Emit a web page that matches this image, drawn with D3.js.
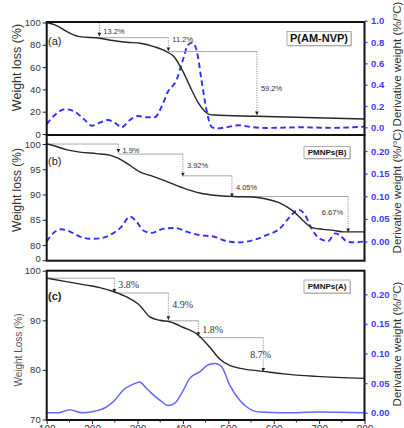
<!DOCTYPE html>
<html><head><meta charset="utf-8">
<script src="https://cdn.jsdelivr.net/npm/d3@7"></script>
<style>body{margin:0;background:#fff;} svg{display:block;}</style>
</head><body>
<script>
// ---------- data ----------
const xTicks = [100,200,300,400,500,600,700,800];

const tempA   = [100,118,151,173,217,246,276,306,336,364,380,400,419,434,448,459,469,562,800];
const weightA = [100,97.8,90.4,87.3,85.9,83.8,82.3,81.4,78.4,73.9,69.5,56.1,39.7,27.9,20.4,17.4,17.0,15.9,13.4];
const dTempA  = [100,118,140,162,184,199,217,235,250,265,283,301,320,338,353,367,386,400,411,421,430,441,452,463,474,496,522,555,584,658,730,800];
const derivA  = [0.03,0.115,0.17,0.146,0.068,0.015,0.043,0.068,0.043,0.0,0.068,0.106,0.094,0.094,0.193,0.334,0.444,0.631,0.772,0.794,0.725,0.444,0.162,0.006,-0.01,0.0,0.019,0.0,-0.006,0.0,-0.005,0.006];

const tempB   = [100,114,143,173,210,239,257,276,305,334,364,400,437,474,511,555,584,614,643,665,683,709,731,753,800];
const weightB = [100,99.7,98.9,98.4,98.1,97.8,97.2,96.2,94.5,93.6,92.6,91.3,90.3,89.8,89.6,89.5,89.1,88.3,86.7,84.8,83.5,83.1,82.9,82.6,82.6];
const dTempB  = [100,114,132,151,173,195,217,246,265,283,298,312,331,356,382,408,437,467,496,525,555,584,614,636,654,669,683,702,720,735,746,761,775,800];
const derivB  = [0.0,0.018,0.027,0.022,0.011,0.006,0.007,0.018,0.033,0.055,0.044,0.025,0.019,0.028,0.030,0.022,0.014,0.011,0.001,-0.002,0.003,0.014,0.029,0.055,0.070,0.059,0.029,0.006,0.001,0.018,0.014,0.0,-0.002,0.0];

const tempC   = [100,143,187,217,250,276,305,327,349,371,400,434,459,481,503,533,577,621,694,800];
const weightC = [98.5,97.8,97.1,96.6,95.7,94.7,93.0,90.7,90.0,89.7,88.6,87.0,84.6,82.2,80.9,80.2,79.7,79.2,78.7,78.3];
const dTempC  = [100,125,151,177,202,232,250,268,290,304,320,338,353,367,382,401,415,437,459,472,485,503,522,540,570,621,700,800];
const derivC  = [0.0,0.0,0.005,0.0,0.002,0.01,0.021,0.038,0.048,0.052,0.041,0.028,0.019,0.012,0.016,0.038,0.058,0.069,0.082,0.083,0.078,0.047,0.024,0.010,0.001,0.0,0.001,0.0];

// steps: [T start, T end, W top, W bottom, label, W of label, label anchor]
const stepsA = [[100,216,100,87.3,"13.2%",91.8,"start"],[216,368,86.4,73.9,"11.2%",85,"start"],[368,563,73.9,16.5,"59.2%",41.3,"start"]];
const stepsB = [[100,258,100,98.2,"1.9%",98.8,"start"],[258,400,98.0,93.5,"3.92%",95.7,"start"],[400,508,93.7,89.4,"4.05%",91.5,"start"],[508,764,89.6,82.5,"6.67%",86.4,"end"]];
const stepsC = [[100,249,98.5,95.5,"3.8%",97.3,"start"],[249,368,95.5,90.0,"4.9%",93.1,"start"],[368,434,89.9,86.8,"1.8%",88.1,"start"],[434,577,86.5,79.6,"8.7%",83.1,"mid"]];

const leftTicksA = [0,20,40,60,80,100];
const leftTicksB = [80,85,90,95,100];
const leftTicksC = [70,80,90,100];
const rightTicksA = [0,0.2,0.4,0.6,0.8,1.0];
const rightTicksB = [0,0.05,0.10,0.15,0.20];
const rightTicksC = [0,0.05,0.10,0.15,0.20];

// ---------- drawing ----------
const svg = d3.select("body").append("svg").attr("width",404).attr("height",428)
  .style("font-family","Arial, 'Liberation Sans', sans-serif");
const x = d3.scaleLinear().domain([100,800]).range([46.7,364.5]);
const X0 = 46.7, X1 = 364.5;
const BLUE = "#3c3cff";

const panels = [
  {top:22, bottom:135, yL:d3.scaleLinear().domain([0,100]).range([134,22.5]),
   yR:d3.scaleLinear().domain([0,1]).range([127.3,20.7]),
   temp:tempA, w:weightA, dT:dTempA, d:derivA, steps:stepsA, lt:leftTicksA, rt:rightTicksA,
   rfmt:d3.format(".1f"), dashed:true, tag:"(a)", tagY:44.5, box:["P(AM-NVP)",287,31.5,64,14,11],
   lTitle:"Weight loss (%)", lTitleY:67.5, lFont:12.5, rTitleY:64, serif:false},
  {top:135, bottom:260.7, yL:d3.scaleLinear().domain([80,100]).range([245,144]),
   yR:d3.scaleLinear().domain([0,0.2]).range([241.5,151]),
   temp:tempB, w:weightB, dT:dTempB, d:derivB, steps:stepsB, lt:leftTicksB, rt:rightTicksB,
   rfmt:d3.format(".2f"), dashed:true, tag:"(b)", tagY:164.5, box:["PMNPs(B)",304,146.5,46,12,8],
   lTitle:"Weight loss (%)", lTitleY:190, lFont:12, rTitleY:191, serif:false, extraZero:true},
  {top:270.7, bottom:420, yL:d3.scaleLinear().domain([70,100]).range([419.5,270.7]),
   yR:d3.scaleLinear().domain([0,0.2]).range([412.7,294.3]),
   temp:tempC, w:weightC, dT:dTempC, d:derivC, steps:stepsC, lt:leftTicksC, rt:rightTicksC,
   rfmt:d3.format(".2f"), dashed:false, tag:"(c)", tagY:299.5, box:["PMNPs(A)",304,280,46,13,8],
   lTitle:"Weight Loss (%)", lTitleY:350, lFont:10, rTitleY:344, serif:true}
];

panels.forEach((p,i)=>{
  const g = svg.append("g");
  // derivative curve
  const dLine = d3.line().x((t,k)=>x(t)).y((t,k)=>p.yR(p.d[k])).curve(d3.curveMonotoneX);
  g.append("path").attr("d", dLine(p.dT)).attr("fill","none")
    .attr("stroke", p.dashed ? "#2f2fff" : "#6666ff")
    .attr("stroke-width", p.dashed ? 1.9 : 1.5)
    .attr("stroke-dasharray", p.dashed ? "5.5,3.5" : null);

  // annotation steps
  p.steps.forEach(s=>{
    const [t1,t2,wt,wb,lab,wl,anc] = s;
    g.append("line").attr("x1",x(t1)).attr("x2",x(t2)).attr("y1",p.yL(wt)).attr("y2",p.yL(wt))
      .attr("stroke","#a8a8a8").attr("stroke-width",1);
    g.append("line").attr("x1",x(t2)).attr("x2",x(t2)).attr("y1",p.yL(wt)).attr("y2",p.yL(wb)-3)
      .attr("stroke","#777").attr("stroke-width",0.8).attr("stroke-dasharray","1.2,1.2");
    const ax = x(t2), ay = p.yL(wb);
    g.append("path").attr("d",`M${ax-1.8},${ay-4}L${ax+1.8},${ay-4}L${ax},${ay}Z`).attr("fill","#222");
    let lx = anc==="end" ? ax-5 : (anc==="mid" ? ax-13 : ax+4);
    g.append("text").attr("x",lx).attr("y",p.yL(wl)).attr("dy","0.35em")
      .attr("text-anchor", anc==="end" ? "end" : "start")
      .attr("font-size", p.serif ? 10 : 7.5)
      .attr("font-family", p.serif ? "'Liberation Serif', 'Times New Roman', serif" : null)
      .attr("fill","#333").text(lab);
  });

  // weight curve
  const wLine = d3.line().x(t=>x(t)).y((t,k)=>p.yL(p.w[k])).curve(d3.curveMonotoneX);
  g.append("path").attr("d", wLine(p.temp)).attr("fill","none").attr("stroke","#262626").attr("stroke-width",1.4);

  // frame
  g.append("rect").attr("x",X0).attr("y",p.top).attr("width",X1-X0).attr("height",p.bottom-p.top)
    .attr("fill","none").attr("stroke","#111").attr("stroke-width",2);

  // left axis
  const la = g.append("g").attr("transform",`translate(${X0},0)`)
    .call(d3.axisLeft(p.yL).tickValues(p.lt).tickSize(4).tickPadding(2).tickFormat(d3.format("d")));
  la.select(".domain").remove();
  la.selectAll("line").attr("stroke","#222");
  la.selectAll("text").attr("font-size",9.5).attr("fill","#333").attr("font-family",null);
  if (p.extraZero) {
    g.append("line").attr("x1",X0-4).attr("x2",X0).attr("y1",p.bottom).attr("y2",p.bottom).attr("stroke","#222");
    g.append("text").attr("x",X0-6).attr("y",p.bottom-2.5).attr("dy","0.35em").attr("text-anchor","end")
      .attr("font-size",9.5).attr("fill","#333").text("0");
  }

  // right axis
  const ra = g.append("g").attr("transform",`translate(${X1},0)`)
    .call(d3.axisRight(p.yR).tickValues(p.rt).tickSize(3).tickPadding(3.5).tickFormat(p.rfmt));
  ra.select(".domain").remove();
  ra.selectAll("line").attr("stroke",BLUE).attr("stroke-width",1.3);
  ra.selectAll("text").attr("font-size",9.5).attr("font-weight","bold").attr("fill",BLUE).attr("font-family",null);

  // panel tag
  g.append("text").attr("x",48).attr("y",p.tagY).attr("font-size",11)
    .attr("font-weight", i===2 ? "bold" : null).attr("fill","#222").text(p.tag);

  // sample box
  const [bt,bx,by,bw,bh,bf] = p.box;
  g.append("rect").attr("x",bx+1).attr("y",by+1).attr("width",bw).attr("height",bh).attr("fill","#c8c8c8");
  g.append("rect").attr("x",bx).attr("y",by).attr("width",bw).attr("height",bh).attr("fill","#fff")
    .attr("stroke","#999").attr("stroke-width",0.8);
  g.append("text").attr("x",bx+bw/2).attr("y",by+bh/2).attr("dy","0.36em").attr("text-anchor","middle")
    .attr("font-size",bf).attr("font-weight","bold").attr("fill","#111").text(bt);

  // axis titles
  g.append("text").attr("transform",`translate(${i===2?21.5:21},${p.lTitleY}) rotate(-90)`)
    .attr("text-anchor","middle").attr("font-size",p.lFont).attr("fill", i===2 ? "#555" : "#333").text(p.lTitle);
  g.append("text").attr("transform",`translate(400.5,${p.rTitleY}) rotate(-90)`)
    .attr("text-anchor","middle").attr("font-size",11.5).attr("fill","#333").text("Derivative weight (%/°C)");
});

// bottom x axis
const xa = svg.append("g").attr("transform","translate(0,420)")
  .call(d3.axisBottom(x).tickValues(xTicks).tickSize(4).tickPadding(2).tickFormat(d3.format("d")));
xa.select(".domain").remove();
xa.selectAll("line").attr("stroke","#222");
xa.selectAll("text").attr("font-size",10).attr("fill","#333").attr("font-family",null);
const minor = d3.range(150,800,100);
svg.append("g").selectAll("line").data(minor).join("line")
  .attr("x1",d=>x(d)).attr("x2",d=>x(d)).attr("y1",420).attr("y2",422.5).attr("stroke","#222");
</script>
</body></html>
